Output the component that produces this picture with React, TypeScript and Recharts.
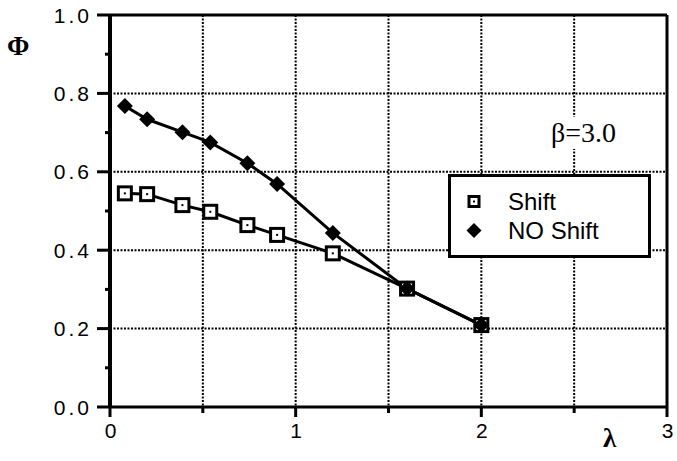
import { LineChart, Line, XAxis, YAxis, CartesianGrid, ReferenceLine, Legend } from 'recharts';

// lambda values sampled for both runs
const lambda = [0.08, 0.2, 0.39, 0.54, 0.74, 0.9, 1.2, 1.6, 2.0];
const phiShift = [0.545, 0.543, 0.515, 0.498, 0.464, 0.439, 0.392, 0.302, 0.209];
const phiNoShift = [0.768, 0.734, 0.701, 0.675, 0.622, 0.569, 0.444, 0.302, 0.209];
const seriesOrder = ['Shift', 'NO Shift'];

const xTicks = [0, 0.5, 1, 1.5, 2, 2.5, 3];
const yTicks = [0, 0.1, 0.2, 0.3, 0.4, 0.5, 0.6, 0.7, 0.8, 0.9, 1.0];
const gridX = [0.5, 1, 1.5, 2, 2.5];
const gridY = [0.2, 0.4, 0.6, 0.8];

const shiftData = lambda.map((x, i) => ({ x, phi: phiShift[i] }));
const noShiftData = lambda.map((x, i) => ({ x, phi: phiNoShift[i] }));

const tickFont = { fontFamily: '"Liberation Sans", Arial, sans-serif', fontSize: 21, letterSpacing: 3 };

const SquareDot = ({ cx, cy, size = 13 }: any) => (
  <g>
    <rect x={cx - size / 2} y={cy - size / 2} width={size} height={size} fill="#fff" stroke="#000" strokeWidth={3} />
    <rect x={cx - 1} y={cy - 1} width={2} height={2} fill="#000" />
  </g>
);

const DiamondDot = ({ cx, cy, r = 8 }: any) => (
  <path d={`M${cx},${cy - r} L${cx + r},${cy} L${cx},${cy + r} L${cx - r},${cy} Z`} fill="#000" />
);

const YTick = ({ x, y, payload }: any) => {
  const v = payload.value;
  const major = Math.round(v * 10) % 2 === 0;
  return (
    <g>
      <line x1={x - (major ? 13 : 5)} x2={x} y1={y} y2={y} stroke="#000" strokeWidth={3} />
      {major && (
        <text x={x - 18} y={y} dy="0.36em" textAnchor="end" fill="#000" style={tickFont}>
          {v.toFixed(1)}
        </text>
      )}
    </g>
  );
};

const XTick = ({ x, y, payload }: any) => {
  const v = payload.value;
  const major = Number.isInteger(v);
  return (
    <g>
      <line x1={x} x2={x} y1={y} y2={y + (major ? 10 : 6)} stroke="#000" strokeWidth={3} />
      {major && (
        <text x={x + 2} y={y + 31} textAnchor="middle" fill="#000" style={tickFont}>
          {v}
        </text>
      )}
    </g>
  );
};

const LegendBox = ({ payload }: any) => {
  const items = [...(payload || [])].sort((a: any, b: any) => seriesOrder.indexOf(a.value) - seriesOrder.indexOf(b.value));
  return (
    <div
      style={{
        width: 197,
        height: 78,
        border: '3px solid #000',
        background: '#fff',
        fontFamily: '"Liberation Sans", Arial, sans-serif',
        fontSize: 24,
        color: '#000',
        position: 'relative',
      }}
    >
      {items.map((p: any, i: number) => (
        <div key={p.value} style={{ position: 'absolute', left: 0, top: 10 + i * 29, height: 29, display: 'flex', alignItems: 'center' }}>
          <svg width={50} height={29}>
            {p.value === 'Shift' ? <SquareDot cx={23} cy={14.5} size={10} /> : <DiamondDot cx={23} cy={14.5} r={7.5} />}
          </svg>
          <span style={{ marginLeft: 7 }}>{p.value}</span>
        </div>
      ))}
    </div>
  );
};

export default function App() {
  return (
    <div style={{ position: 'absolute', left: 0, top: 0, width: 677, height: 461, background: '#fff' }}>
      <LineChart width={677} height={461} margin={{ top: 15, right: 10, bottom: 0, left: 0 }}>
        <CartesianGrid
          horizontalValues={gridY}
          verticalValues={gridX}
          stroke="#000"
          strokeWidth={2}
          strokeDasharray="2 1.5"
        />
        <XAxis
          type="number"
          dataKey="x"
          domain={[0, 3]}
          ticks={xTicks}
          height={54}
          tickSize={0}
          tickMargin={0}
          tickLine={false}
          tick={<XTick />}
          axisLine={{ stroke: '#000', strokeWidth: 3 }}
          allowDataOverflow
        />
        <YAxis
          type="number"
          domain={[0, 1]}
          ticks={yTicks}
          width={110}
          tickSize={0}
          tickMargin={0}
          tickLine={false}
          tick={<YTick />}
          axisLine={{ stroke: '#000', strokeWidth: 4 }}
          allowDataOverflow
        />
        <ReferenceLine y={1} stroke="#000" strokeWidth={3} />
        <ReferenceLine x={3} stroke="#000" strokeWidth={3} />
        <Legend
          layout="vertical"
          align="center"
          verticalAlign="middle"
          wrapperStyle={{ left: 448, top: 174, width: 202, height: 83 }}
          content={<LegendBox />}
        />
        <Line
          name="Shift"
          data={shiftData}
          dataKey="phi"
          stroke="#000"
          strokeWidth={3}
          isAnimationActive={false}
          dot={(p: any) => <SquareDot key={`s-${p.index}`} cx={p.cx} cy={p.cy} />}
        />
        <Line
          name="NO Shift"
          data={noShiftData}
          dataKey="phi"
          stroke="#000"
          strokeWidth={3}
          isAnimationActive={false}
          dot={(p: any) => <DiamondDot key={`n-${p.index}`} cx={p.cx} cy={p.cy} />}
        />
      </LineChart>
      <div style={{ position: 'absolute', left: 7, top: 33, fontFamily: '"Liberation Serif", serif', fontWeight: 'bold', fontSize: 27, lineHeight: 1 }}>
        Φ
      </div>
      <div style={{ position: 'absolute', left: 603, top: 425, fontFamily: '"Liberation Serif", serif', fontWeight: 'bold', fontSize: 27, lineHeight: 1 }}>
        λ
      </div>
      <div style={{ position: 'absolute', left: 548, top: 117, padding: '2px 3px', background: '#fff', fontFamily: '"Liberation Serif", serif', fontSize: 28, lineHeight: 1 }}>
        β=3.0
      </div>
    </div>
  );
}
